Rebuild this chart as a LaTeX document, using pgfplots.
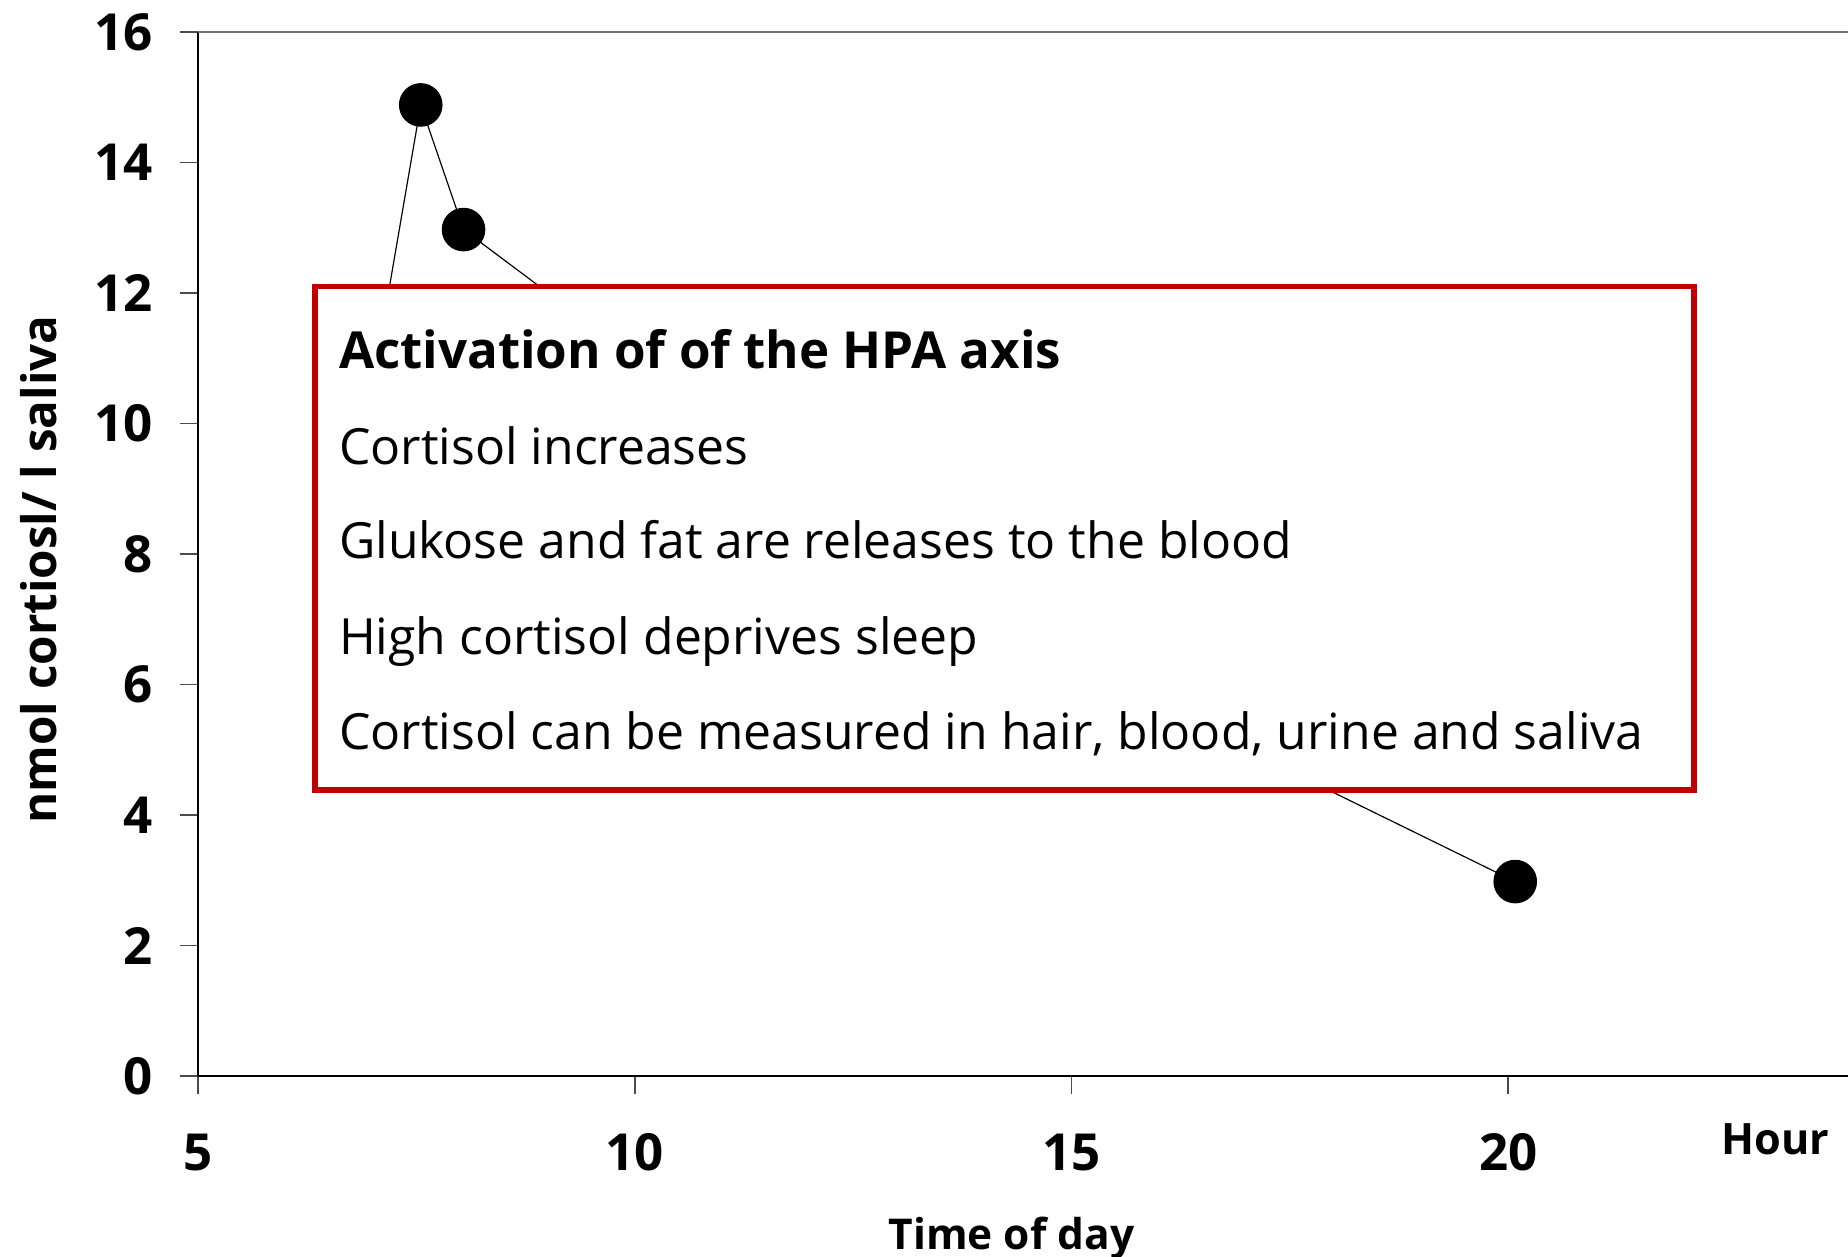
\documentclass[border=0pt]{standalone}
\usepackage{fontspec}
\setmainfont{Open Sans}
\usepackage{pgfplots}
\pgfplotsset{compat=1.18}
\definecolor{boxred}{HTML}{C00000}

\begin{document}
\begin{tikzpicture}
\begin{axis}[
  scale only axis, width=420pt, height=265.8pt,
  xmin=5, xmax=23.89, ymin=0, ymax=16,
  axis x line*=bottom, axis y line*=left,
  axis line style={black, line width=0.45pt, -},
  xtick={5,10,15,20}, ytick={0,2,...,16},
  tick align=outside, major tick length=4.5pt,
  tick style={black!70, line width=0.4pt},
  ticklabel style={font=\fontsize{13}{15}\selectfont\bfseries},
  /pgf/number format/assume math mode=true,
  yticklabel shift=3.5pt, xticklabel shift=6.6pt,
  xlabel={Time of day}, ylabel={nmol cortiosl/ l saliva},
  xlabel style={font=\fontsize{10.8}{13}\selectfont\bfseries,
    at={(axis description cs:0.493,-0.155)}, anchor=center},
  ylabel style={font=\fontsize{12.1}{14}\selectfont\bfseries,
    at={(axis description cs:-0.0964,0.485)}, anchor=center},
  clip=false,
]
% top line
\draw[black!55, line width=0.45pt] (rel axis cs:0,1) -- (rel axis cs:1,1);

\addplot[black, line width=0.3pt, mark=*, mark size=5.4pt, mark options={fill=black}]
  coordinates {(7.0,10.6) (7.55,14.88) (8.04,12.97) (12,9) (17,5) (20.08,2.98)};

% anchor points for the text box drawn over the curve
\coordinate (bsw) at (axis cs:6.336,4.388);
\coordinate (bne) at (axis cs:22.126,12.10);
\coordinate (t1) at (axis cs:6.606,10.835);
\coordinate (t2) at (axis cs:6.606,9.372);
\coordinate (t3) at (axis cs:6.606,7.928);
\coordinate (t4) at (axis cs:6.606,6.465);
\coordinate (t5) at (axis cs:6.606,5.002);

\node[font=\fontsize{11}{13}\selectfont\bfseries] at (rel axis cs:0.956,-0.061) {Hour};
\end{axis}

\draw[boxred, line width=1.45pt, fill=white] (bsw) rectangle (bne);
\begin{scope}[every node/.style={anchor=base west, inner sep=0pt, font=\fontsize{12.7}{15}\selectfont}]
\node[font=\fontsize{13}{15}\selectfont\bfseries] at (t1) {Activation of of the HPA axis};
\node at (t2) {Cortisol increases};
\node at (t3) {Glukose and fat are releases to the blood};
\node at (t4) {High cortisol deprives sleep};
\node at (t5) {Cortisol can be measured in hair, blood, urine and saliva};
\end{scope}

\pgfresetboundingbox
\path (-50.4pt,-45.9pt) rectangle (420pt,273.9pt);
\end{tikzpicture}
\end{document}
